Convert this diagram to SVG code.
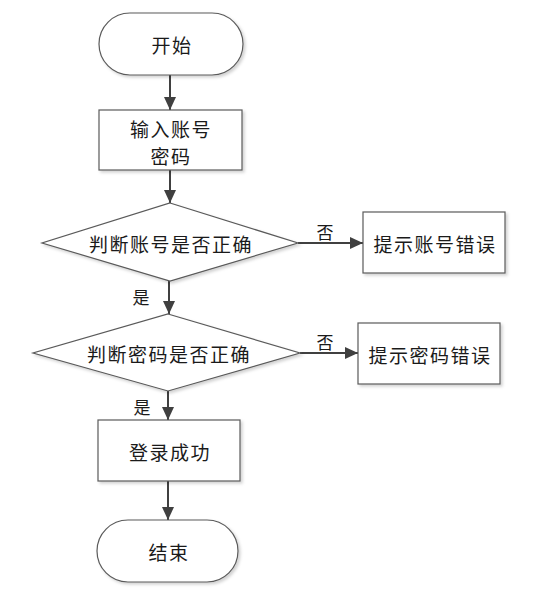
<svg xmlns="http://www.w3.org/2000/svg" width="541" height="603" viewBox="0 0 541 603">
<style>
.shape{fill:#fff;stroke:#5a5a5a;stroke-width:1.2}
.t{font-family:"Noto Sans CJK SC","Liberation Sans",sans-serif;font-size:19px;letter-spacing:1.5px;fill:#1a1a1a;text-anchor:middle;dominant-baseline:central}
.lbl{font-family:"Noto Sans CJK SC","Liberation Sans",sans-serif;font-size:17px;fill:#1a1a1a;text-anchor:middle;dominant-baseline:central}
.c{stroke:#404040;stroke-width:2;fill:none;marker-end:url(#ah)}
</style>
<defs>
<marker id="ah" markerWidth="13" markerHeight="12" refX="13" refY="6" orient="auto" markerUnits="userSpaceOnUse">
<path d="M0,0 L13,6 L0,12 Z" fill="#404040"/>
</marker>
<filter id="sh" x="-10%" y="-10%" width="130%" height="130%">
<feDropShadow dx="2" dy="2" stdDeviation="1.5" flood-color="#000" flood-opacity="0.18"/>
</filter>
</defs>
<rect width="541" height="603" fill="#fff"/>
<g id="connectors">
<line class="c" x1="170" y1="75" x2="170" y2="110"/>
<line class="c" x1="170" y1="170" x2="170" y2="203"/>
<line class="c" x1="298" y1="243" x2="363" y2="243"/>
<line class="c" x1="169" y1="281" x2="169" y2="314"/>
<line class="c" x1="300" y1="353" x2="358" y2="353"/>
<line class="c" x1="168" y1="391" x2="168" y2="420"/>
<line class="c" x1="168" y1="481" x2="168" y2="520"/>
<text class="lbl" x="325" y="231">否</text>
<text class="lbl" x="141" y="296">是</text>
<text class="lbl" x="325" y="341">否</text>
<text class="lbl" x="142" y="406">是</text>
</g>
<g id="start">
<rect class="shape" filter="url(#sh)" x="99" y="13" width="144" height="62" rx="31"/>
<text class="t" x="172" y="44">开始</text>
</g>
<g id="input">
<rect class="shape" filter="url(#sh)" x="99" y="110" width="143" height="60"/>
<text class="t" x="171" y="128">输入账号</text>
<text class="t" x="171" y="155">密码</text>
</g>
<g id="check_account">
<polygon class="shape" filter="url(#sh)" points="170,203 298,243 170,281 42,243"/>
<text class="t" x="171" y="243">判断账号是否正确</text>
</g>
<g id="account_error">
<rect class="shape" filter="url(#sh)" x="363" y="212" width="142" height="61"/>
<text class="t" x="435" y="243">提示账号错误</text>
</g>
<g id="check_password">
<polygon class="shape" filter="url(#sh)" points="168,314 300,353 168,391 33,353"/>
<text class="t" x="169" y="353">判断密码是否正确</text>
</g>
<g id="password_error">
<rect class="shape" filter="url(#sh)" x="358" y="323" width="142" height="61"/>
<text class="t" x="430" y="354">提示密码错误</text>
</g>
<g id="success">
<rect class="shape" filter="url(#sh)" x="98" y="420" width="142" height="61"/>
<text class="t" x="170" y="451">登录成功</text>
</g>
<g id="end">
<rect class="shape" filter="url(#sh)" x="97" y="520" width="141" height="62" rx="31"/>
<text class="t" x="169" y="551">结束</text>
</g>
</svg>
